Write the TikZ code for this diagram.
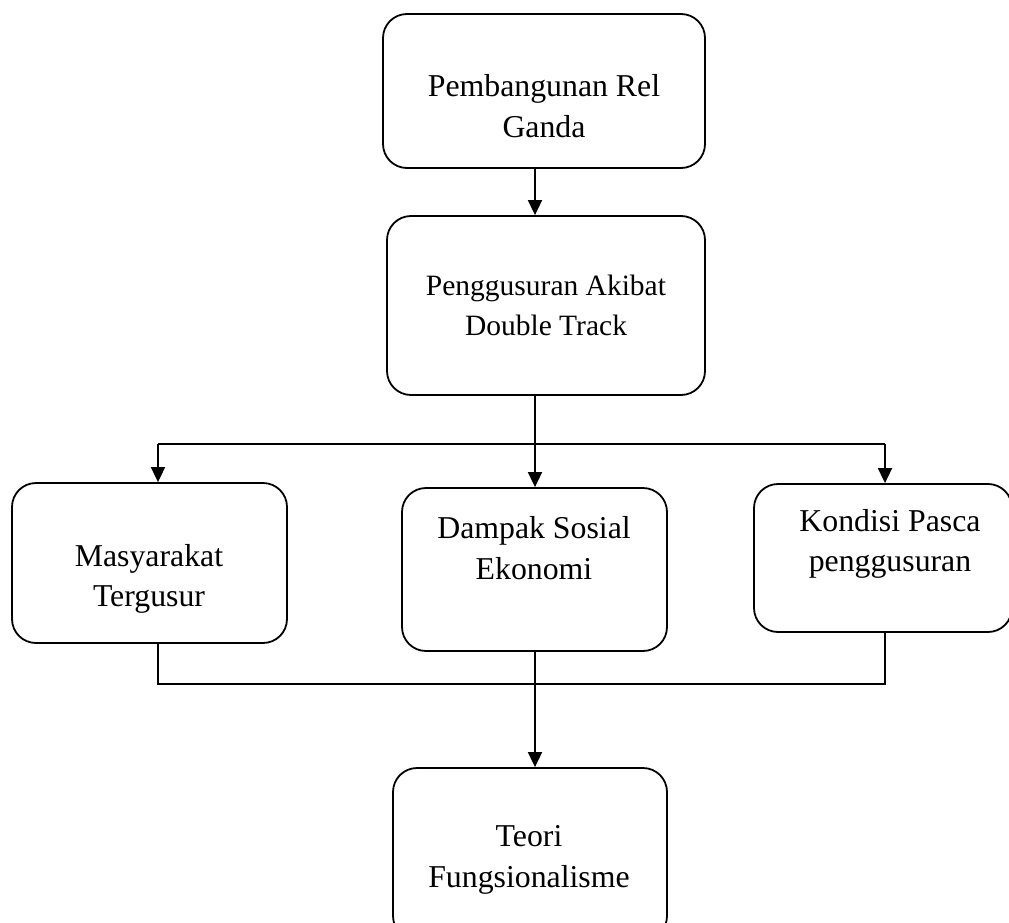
\documentclass[tikz,border=0pt]{standalone}
\usepackage{fontspec}
\setmainfont{Liberation Serif}
\usetikzlibrary{arrows.meta}
\begin{document}
\begin{tikzpicture}[x=1pt,y=-1pt,
  box/.style={draw, line width=1.8pt, rounded corners=24pt, inner sep=0pt},
  txt/.style={align=center, inner sep=0pt, font=\fontsize{31.8}{40.5}\selectfont},
  txts/.style={align=center, inner sep=0pt, font=\fontsize{29.5}{40}\selectfont},
  arr/.style={line width=1.8pt, -{Triangle[length=15pt,width=14pt]}},
  ln/.style={line width=1.5pt}]
\clip (0,0) rectangle (1009,923);
\fill[white] (0,0) rectangle (1009,923);
% boxes
\node[box, minimum width=322pt, minimum height=154pt] (b1) at (544,91) {};
\node[box, minimum width=318pt, minimum height=179pt] (b2) at (546,305.5) {};
\node[box, minimum width=275pt, minimum height=160pt] (b3) at (149.5,563) {};
\node[box, minimum width=265pt, minimum height=163pt] (b4) at (534.5,569.5) {};
\node[box, minimum width=258pt, minimum height=148pt] (b5) at (883,558) {};
\node[box, minimum width=274pt, minimum height=172pt] (b6) at (530,854) {};
% texts
\node[txt] (t1) at (544,106) {Pembangunan Rel\\Ganda};
\node[txts] (t2) at (546,305) {Penggusuran Akibat\\Double Track};
\node[txt] (t3) at (149,579) {Masyarakat\\Tergusur};
\node[txt] (t4) at (534,548) {Dampak Sosial\\Ekonomi};
\node[txt] (t5) at (890,544) {Kondisi Pasca\\penggusuran};
\node[txt] (t6) at (529,860) {Teori\\Fungsionalisme};
% connector coordinates
\coordinate (ax) at (535,0);
\coordinate (jl) at (158,444);
\coordinate (jr) at (885,444);
\coordinate (kl) at (158,684);
\coordinate (kr) at (885,684);
% connectors
\draw[arr] (b1.south -| ax) -- (b2.north -| ax);
\draw[arr] (b2.south -| ax) -- (b4.north -| ax);
\draw[ln] (jl) -- (jr);
\draw[arr] (jl) -- (b3.north -| jl);
\draw[arr] (jr) -- (b5.north -| jr);
\draw[ln] (b3.south -| kl) -- (kl) -- (kr) -- (b5.south -| kr);
\draw[arr] (b4.south -| ax) -- (b6.north -| ax);
\end{tikzpicture}
\end{document}
